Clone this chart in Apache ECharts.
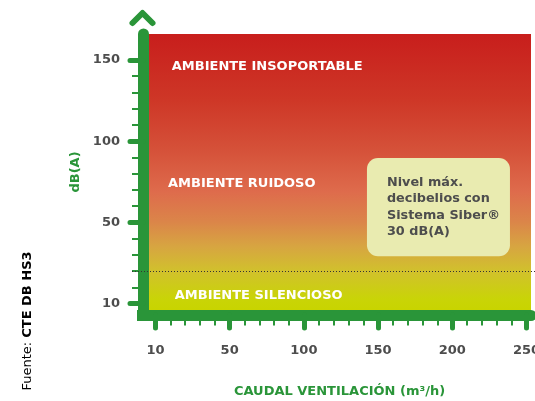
<!DOCTYPE html>
<html><head><meta charset="utf-8">
<script src="https://cdn.jsdelivr.net/npm/echarts@6/dist/echarts.min.js"></script>
<style>html,body{margin:0;padding:0;background:#fff;overflow:hidden}#c{width:535px;height:401px}</style>
</head><body><div id="c"></div>
<script>
// ---- data ----
const yMajorValues = [0, 50, 100, 150];
const yTickLabels = ['10', '50', '100', '150'];
const yMinorValues = [10, 20, 30, 40, 60, 70, 80, 90, 110, 120, 130, 140];
const xMajorValues = [0, 50, 100, 150, 200, 250];
const xTickLabels = ['10', '50', '100', '150', '200', '250'];
const xMinorValues = [10, 20, 30, 40, 60, 70, 80, 90, 110, 120, 130, 140, 160, 170, 180, 190, 210, 220, 230, 240];
const zoneNames = ['AMBIENTE INSOPORTABLE', 'AMBIENTE RUIDOSO', 'AMBIENTE SILENCIOSO'];
const zoneLabelX = [11, 8.5, 13];
const zoneLabelY = [146, 73.6, 4.6];
const thresholdValue = 20;
const noteLines = ['Nivel máx.', 'decibelios con', 'Sistema Siber®', '30 dB(A)'];
const notePos = [142.5, 59.4];
const xName = 'CAUDAL VENTILACIÓN (m³/h)';
const yName = 'dB(A)';

// ---- styles ----
const GREEN = '#2a9539';
const GREY = '#4d4d4d';
const FONT = 'DejaVu Sans';
const X_MIN = -5, X_MAX = 253, Y_MIN = -4, Y_MAX = 166;

const chart = echarts.init(document.getElementById('c'), null, {renderer: 'canvas', width: 535, height: 401});

chart.setOption({
  animation: false,
  grid: {
    left: 148, right: 4, top: 34, bottom: 91,
    outerBoundsMode: 'none', containLabel: false,
    show: true, borderWidth: 0,
    backgroundColor: {
      type: 'linear', x: 0, y: 0, x2: 0, y2: 1,
      colorStops: [
        {offset: 0, color: '#c81e1c'},
        {offset: 0.24, color: '#ce3727'},
        {offset: 0.42, color: '#d55139'},
        {offset: 0.57, color: '#de6b4c'},
        {offset: 0.68, color: '#db8549'},
        {offset: 0.77, color: '#d7a541'},
        {offset: 0.86, color: '#d1c12c'},
        {offset: 0.96, color: '#c9d407'},
        {offset: 1, color: '#c8d400'}
      ]
    }
  },
  xAxis: [{
    type: 'value', min: X_MIN, max: X_MAX, position: 'bottom', offset: 5,
    splitLine: {show: false},
    axisLine: {show: true, onZero: false, lineStyle: {color: GREEN, width: 11, cap: 'round'}},
    axisTick: {show: true, customValues: xMajorValues, length: 13, lineStyle: {color: GREEN, width: 5, cap: 'round'}},
    axisLabel: {show: true, customValues: xMajorValues, margin: 29, hideOverlap: false,
      formatter: v => xTickLabels[xMajorValues.indexOf(v)] ?? '',
      color: GREY, fontFamily: FONT, fontWeight: 'bold', fontSize: 13},
    name: xName, nameLocation: 'middle', nameGap: 70,
    nameTextStyle: {color: GREEN, fontFamily: FONT, fontWeight: 'bold', fontSize: 13}
  }, {
    type: 'value', min: X_MIN, max: X_MAX, position: 'bottom', offset: 5,
    splitLine: {show: false},
    axisLine: {show: false, onZero: false},
    axisTick: {show: true, customValues: xMinorValues, length: 10.5, lineStyle: {color: GREEN, width: 2}},
    axisLabel: {show: false}
  }],
  yAxis: [{
    type: 'value', min: Y_MIN, max: Y_MAX, position: 'left', offset: 5,
    splitLine: {show: false},
    axisLine: {show: true, onZero: false, lineStyle: {color: GREEN, width: 11, cap: 'round'}},
    axisTick: {show: true, customValues: yMajorValues, length: 13, lineStyle: {color: GREEN, width: 5, cap: 'round'}},
    axisLabel: {show: true, customValues: yMajorValues, margin: 23,
      formatter: v => yTickLabels[yMajorValues.indexOf(v)] ?? '',
      color: GREY, fontFamily: FONT, fontWeight: 'bold', fontSize: 13},
    name: yName, nameLocation: 'middle', nameGap: 61, nameRotate: 90,
    nameTextStyle: {color: GREEN, fontFamily: FONT, fontWeight: 'bold', fontSize: 13}
  }, {
    type: 'value', min: Y_MIN, max: Y_MAX, position: 'left', offset: 5,
    splitLine: {show: false},
    axisLine: {show: false, onZero: false},
    axisTick: {show: true, customValues: yMinorValues, length: 11, lineStyle: {color: GREEN, width: 2}},
    axisLabel: {show: false}
  }],
  series: [{
    type: 'scatter', xAxisIndex: 0, yAxisIndex: 0, symbolSize: 0, silent: true,
    itemStyle: {opacity: 1},
    data: zoneNames.map((n, i) => ({value: [zoneLabelX[i], zoneLabelY[i]], name: n})),
    label: {show: true, position: 'right', distance: 0, formatter: p => p.name,
      color: '#ffffff', fontFamily: FONT, fontWeight: 'bold', fontSize: 13}
  }, {
    type: 'scatter', xAxisIndex: 0, yAxisIndex: 0, symbolSize: 0, silent: true,
    itemStyle: {opacity: 1},
    data: [{value: notePos, name: 'note'}],
    label: {show: true, position: 'right', distance: 0,
      formatter: () => noteLines.join('\n'),
      color: GREY, fontFamily: FONT, fontWeight: 'bold', fontSize: 12.8, lineHeight: 16.3,
      backgroundColor: '#e9ebb0', borderRadius: 11,
      padding: [17, 8, 16, 20], width: 115, align: 'left'}
  }]
});

const yT = chart.convertToPixel({yAxisIndex: 0}, thresholdValue);
const origin = chart.convertToPixel({gridIndex: 0}, [X_MIN, Y_MIN]);
const topPx = chart.convertToPixel({yAxisIndex: 0}, Y_MAX);
const axX = origin[0] - 5.5;
chart.setOption({
  graphic: [{
    type: 'rect', silent: true, z: 10,
    shape: {x: origin[0] - 11, y: origin[1], width: 11, height: 11},
    style: {fill: GREEN}
  }, {
    type: 'polyline', silent: true, z: 10,
    shape: {points: [[axX - 10, topPx - 11], [axX, topPx - 21], [axX + 10, topPx - 11]]},
    style: {stroke: GREEN, lineWidth: 6, lineCap: 'round', lineJoin: 'round', fill: null}
  }, {
    type: 'line', silent: true, z: 50,
    shape: {x1: 132, y1: Math.round(yT) + 0.5, x2: 535, y2: Math.round(yT) + 0.5},
    style: {stroke: '#333333', lineWidth: 1, lineDash: [1, 2]}
  }, {
    type: 'text', silent: true, x: 28, y: 321, rotation: Math.PI / 2,
    style: {
      text: '{a|Fuente: }{b|CTE DB HS3}', align: 'center', verticalAlign: 'middle',
      rich: {
        a: {fontFamily: FONT, fontSize: 13, color: GREY},
        b: {fontFamily: FONT, fontSize: 13, fontWeight: 'bold', color: GREY}
      }
    }
  }]
});
</script></body></html>
